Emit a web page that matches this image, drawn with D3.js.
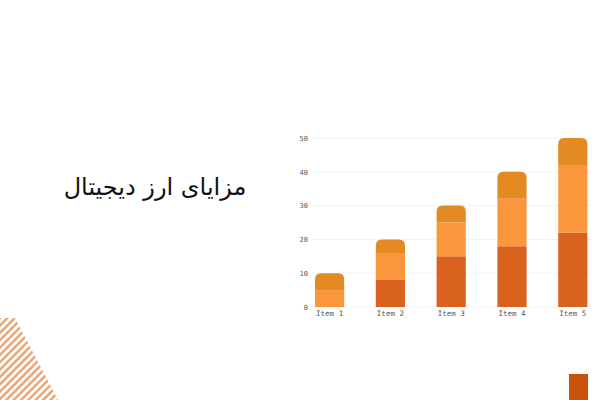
<!DOCTYPE html>
<html>
<head>
<meta charset="utf-8">
<script src="https://cdn.jsdelivr.net/npm/d3@7"></script>
<style>
  body { margin: 0; background: #fff; }
  svg { display: block; }
</style>
</head>
<body>
<div id="chart"></div>
<script>
// chart data
var items = ["Item 1", "Item 2", "Item 3", "Item 4", "Item 5"];
var seriesBottom = [0, 8, 15, 18, 22];
var seriesMiddle = [5, 8, 10, 14, 20];
var seriesTop = [5, 4, 5, 8, 8];
var yTicks = [0, 10, 20, 30, 40, 50];
var title = "مزایای ارز دیجیتال";

var colors = ["#D9621F", "#FA963C", "#E38B22"];

var svg = d3.select("#chart")
    .append("svg")
    .attr("width", 600)
    .attr("height", 400);

// striped decoration, bottom left
var defs = svg.append("defs");
defs.append("pattern")
    .attr("id", "stripes")
    .attr("patternUnits", "userSpaceOnUse")
    .attr("width", 5.2)
    .attr("height", 5.2)
    .attr("patternTransform", "rotate(45)")
    .append("rect")
    .attr("width", 2.6)
    .attr("height", 5.2)
    .attr("fill", "#E9A97B");

svg.append("polygon")
    .attr("points", "0,318 15,318 58,400 0,400")
    .attr("fill", "url(#stripes)");

// small block, bottom right
svg.append("rect")
    .attr("x", 569)
    .attr("y", 374)
    .attr("width", 19)
    .attr("height", 26)
    .attr("fill", "#CB520A");

// title
svg.append("text")
    .attr("x", 155)
    .attr("y", 195)
    .attr("text-anchor", "middle")
    .attr("direction", "rtl")
    .attr("font-family", "DejaVu Sans")
    .attr("font-size", 24)
    .attr("fill", "#111")
    .text(title);

// scales
var x = d3.scaleBand()
    .domain(items)
    .range([299.2, 603.2])
    .paddingInner(0.52)
    .paddingOuter(0.26);

var y = d3.scaleLinear()
    .domain([0, 50])
    .range([307, 138]);

// gridlines
svg.append("g")
    .selectAll("line")
    .data(yTicks)
    .join("line")
    .attr("x1", 312)
    .attr("x2", 592)
    .attr("y1", d => y(d))
    .attr("y2", d => y(d))
    .attr("stroke", "#f3f3f3")
    .attr("stroke-width", 1);

// y axis labels
var yAxis = svg.append("g")
    .attr("transform", "translate(308,0)")
    .call(d3.axisLeft(y).tickValues(yTicks).tickSize(0).tickPadding(0));
yAxis.select(".domain").remove();
yAxis.selectAll("text")
    .attr("font-family", "DejaVu Sans Mono")
    .attr("font-size", 7)
    .attr("fill", "#555");

// x axis labels
var xAxis = svg.append("g")
    .attr("transform", "translate(0,311)")
    .call(d3.axisBottom(x).tickSize(0).tickPadding(0));
xAxis.select(".domain").remove();
xAxis.selectAll("text")
    .attr("font-family", "DejaVu Sans Mono")
    .attr("font-size", 7.5)
    .attr("fill", "#555");

// stacked bars
var table = items.map(function (d, i) {
    return {item: d, a: seriesBottom[i], b: seriesMiddle[i], c: seriesTop[i]};
});
var stack = d3.stack().keys(["a", "b", "c"]);
var layers = stack(table);

var radius = 6;

function segPath(d, rounded) {
    var x0 = x(d.data.item), w = x.bandwidth();
    var yTop = y(d[1]), yBot = y(d[0]);
    if (!rounded) {
        return `M${x0},${yBot}V${yTop}H${x0 + w}V${yBot}Z`;
    }
    var r = Math.min(radius, yBot - yTop);
    return `M${x0},${yBot}V${yTop + r}Q${x0},${yTop} ${x0 + r},${yTop}` +
        `H${x0 + w - r}Q${x0 + w},${yTop} ${x0 + w},${yTop + r}V${yBot}Z`;
}

svg.append("g")
    .selectAll("g")
    .data(layers)
    .join("g")
    .attr("fill", (d, i) => colors[i])
    .selectAll("path")
    .data(d => d)
    .join("path")
    .filter(d => d[1] > d[0])
    .attr("d", function (d) {
        var total = d.data.a + d.data.b + d.data.c;
        return segPath(d, d[1] === total);
    });
</script>
</body>
</html>
